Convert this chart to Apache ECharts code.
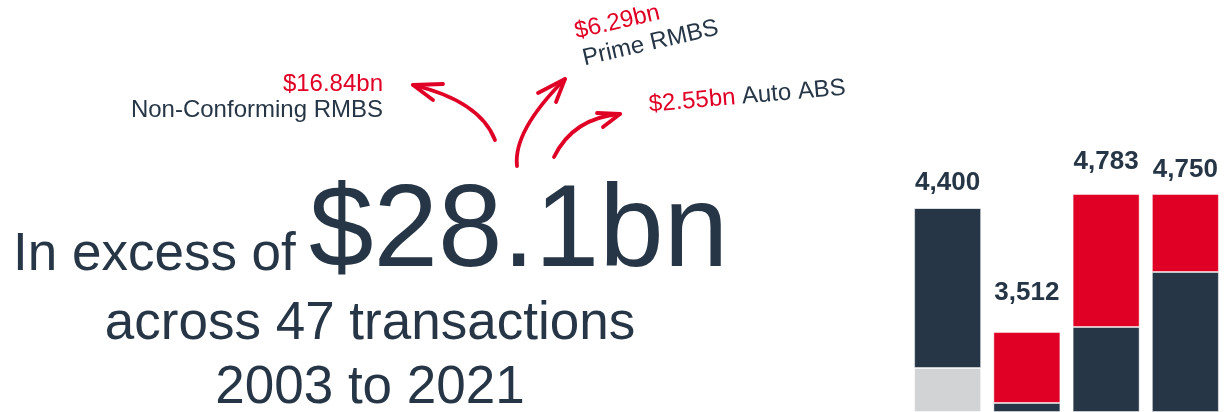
<!DOCTYPE html>
<html>
<head>
<meta charset="utf-8">
<script src="https://cdn.jsdelivr.net/npm/echarts@6/dist/echarts.min.js"></script>
<style>
  html, body { margin: 0; padding: 0; background: #fff; }
  #chart { width: 1225px; height: 412px; }
</style>
</head>
<body>
<div id="chart"></div>
<script>
// bar categories (their axis labels are cut off in the picture)
const categories = ['1', '2', '3', '4']
// number printed above each bar
const totals = [4400, 3512, 4783, 4750]
// stacked segments, bottom to top
const greyValues = [880, 0, 0, 0]
const navyValues = [3200, 180, 1700, 2800]
const redValues = [0, 1420, 2660, 1560]

const NAVY = '#263646'
const RED = '#e10025'
const GREY = '#d1d3d5'
const FONT = '"Liberation Sans", Arial, sans-serif'

// gap between bar top and its total label
const labelGap = [12, 26, 19, 11]

const chart = echarts.init(document.getElementById('chart'))

// 文字
function txt (x, y, text, size, color, align, rot) {
  return {
    type: 'text',
    x: x,
    y: y,
    rotation: (rot || 0) * Math.PI / 180,
    style: {
      text: text,
      font: size + 'px ' + FONT,
      fill: color,
      textAlign: align || 'left',
      textVerticalAlign: 'middle'
    }
  }
}

// 箭头
function arrow (p0, c, p1, h1, h2) {
  return [
    {
      type: 'bezierCurve',
      shape: { x1: p0[0], y1: p0[1], cpx1: c[0], cpy1: c[1], x2: p1[0], y2: p1[1] },
      style: { stroke: RED, lineWidth: 3.8, fill: null, lineCap: 'round' }
    },
    {
      type: 'polyline',
      shape: { points: [h1, p1, h2] },
      style: { stroke: RED, lineWidth: 3.8, fill: null, lineCap: 'round', lineJoin: 'round' }
    }
  ]
}

const bar = (name, data, color) => ({
  name: name,
  type: 'bar',
  stack: 'all',
  barWidth: 67,
  data: data,
  itemStyle: { color: color, borderColor: 'rgba(255,255,255,0.45)', borderWidth: 1 },
  silent: true
})

const redSeries = bar('red', redValues.map((v, i) => ({
  value: v,
  label: { distance: labelGap[i] }
})), RED)
redSeries.label = {
  show: true,
  position: 'top',
  fontFamily: FONT,
  fontWeight: 'bold',
  fontSize: 26,
  color: NAVY,
  formatter: p => totals[p.dataIndex].toLocaleString('en-US')
}

const option = {
  animation: false,
  grid: { left: 908, right: -5, top: 12, bottom: 0 },
  xAxis: { type: 'category', data: categories, show: false },
  yAxis: { type: 'value', min: 0, max: 8000, show: false },
  series: [
    bar('grey', greyValues, GREY),
    bar('navy', navyValues, NAVY),
    redSeries
  ],
  graphic: [
    txt(13, 255, 'In excess of', 53, NAVY),
    txt(309, 234, '$28.1bn', 116, NAVY),
    txt(370, 324, 'across 47 transactions', 53, NAVY, 'center'),
    txt(370, 388, '2003 to 2021', 53, NAVY, 'center'),
    txt(383, 84, '$16.84bn', 24, RED, 'right'),
    txt(383, 110, 'Non-Conforming RMBS', 24, NAVY, 'right'),
    txt(575, 32, '$6.29bn', 24, RED, 'left', 13),
    txt(583, 59, 'Prime RMBS', 24, NAVY, 'left', 13),
    txt(649, 105, '$2.55bn', 24, RED, 'left', 5),
    txt(742, 97, 'Auto ABS', 24, NAVY, 'left', 5)
  ].concat(
    arrow([495, 140], [480, 101], [413, 85], [443, 84], [433, 100]),
    arrow([517, 166], [513, 131], [565, 79], [538, 93], [556, 102]),
    arrow([554, 157], [573, 118], [620, 114], [597, 113], [603, 127])
  )
}

chart.setOption(option)
</script>
</body>
</html>
